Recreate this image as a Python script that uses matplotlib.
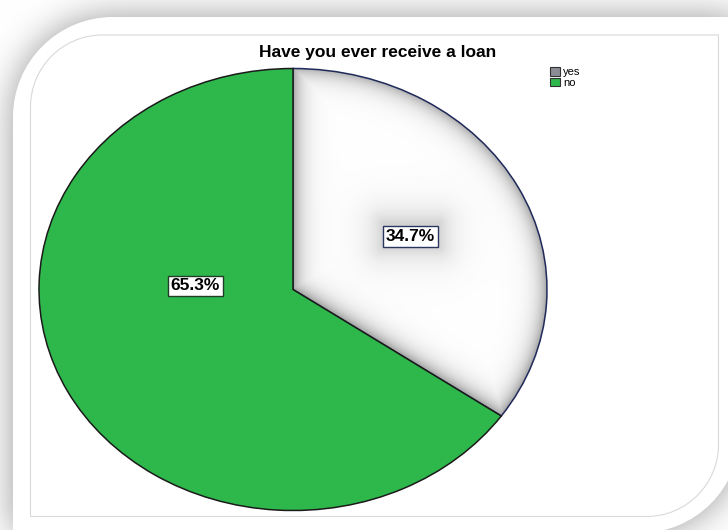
import numpy as np
import matplotlib.pyplot as plt
from matplotlib.path import Path
from matplotlib.patches import PathPatch, Patch

W, H = 728, 530

title = "Have you ever receive a loan"
labels = ["yes", "no"]
percent = [34.7, 65.3]
slice_colors = ["white", "#2eb84b"]
edge_colors = ["#1f2a5a", "#1a1a1a"]
box_edges = ["#2a3560", "#1f3d25"]
legend_colors = ["#8c8c96", "#2eb84b"]

plt.rcParams["font.family"] = ["Liberation Sans", "DejaVu Sans"]

# pie ellipse in pixel space (y down)
cx, cy, rx, ry = 293.0, 289.5, 254.0, 221.0


def diag_round_rect(x0, y0, x1, y1, r):
    # rectangle with rounded top-left and bottom-right corners only
    k = 0.5523 * r
    verts = [(x0, y0 + r),
             (x0, y0 + r - k), (x0 + r - k, y0), (x0 + r, y0),
             (x1, y0),
             (x1, y1 - r),
             (x1, y1 - r + k), (x1 - r + k, y1), (x1 - r, y1),
             (x0, y1),
             (x0, y0 + r)]
    codes = [Path.MOVETO, Path.CURVE4, Path.CURVE4, Path.CURVE4,
             Path.LINETO, Path.LINETO, Path.CURVE4, Path.CURVE4, Path.CURVE4,
             Path.LINETO, Path.CLOSEPOLY]
    return Path(verts, codes)


def gauss_blur(a, sigma):
    n = int(3 * sigma)
    t = np.arange(-n, n + 1)
    k = np.exp(-0.5 * (t / sigma) ** 2)
    k /= k.sum()
    a = np.apply_along_axis(lambda r: np.convolve(r, k, mode="same"), 1, a)
    a = np.apply_along_axis(lambda c: np.convolve(c, k, mode="same"), 0, a)
    return a


card = diag_round_rect(13, 17, 740, 533, 100)
inner = diag_round_rect(30.5, 35, 718.5, 516.5, 72)

# soft drop shadow under the card
pad = 60
gx, gy = np.meshgrid(np.arange(-pad, W + pad) + 0.5, np.arange(-pad, H + pad) + 0.5)
mask = card.contains_points(np.c_[gx.ravel(), gy.ravel()]).reshape(gx.shape).astype(float)
shadow = gauss_blur(mask, 18)[pad:-pad, pad:-pad]
bg = 1 - 0.40 * shadow
bg_rgb = np.dstack([bg, bg, bg])

# inner shading of the "yes" slice: grey towards its borders, glow round the label
px, py = np.meshgrid(np.arange(cx - rx, cx + rx) + 0.5, np.arange(cy - ry, cy + ry) + 0.5)
u = (px - cx) / rx
v = (cy - py) / ry
r = np.hypot(u, v) + 1e-9
d_arc = (1 - r) * r / np.sqrt((u / rx) ** 2 + (v / ry) ** 2)
d_l1 = np.abs(px - cx)
th = np.deg2rad(90 - 360 * percent[0] / 100)
dx, dy = rx * np.cos(th), -ry * np.sin(th)
nrm = np.hypot(dx, dy)
d_l2 = np.abs((px - cx) * dy - (py - cy) * dx) / nrm
d = np.clip(np.minimum(np.minimum(d_arc, d_l1), d_l2), 0, None)
edge_dark = 0.36 * np.exp(-d / 9.5)
bx0, bx1, by0, by1 = 383, 439, 224, 248
db = np.hypot(np.maximum(0, np.maximum(bx0 - px, px - bx1)),
              np.maximum(0, np.maximum(by0 - py, py - by1)))
glow = 0.17 * np.exp(-db / 15.0)
shade = (1 - edge_dark) * (1 - glow)
shade_rgb = np.dstack([shade, shade, shade])

fig = plt.figure(figsize=(W / 100, H / 100), dpi=100)

ax_bg = fig.add_axes([0, 0, 1, 1], zorder=-1)
ax_bg.imshow(bg_rgb, extent=(0, W, H, 0), aspect="auto", interpolation="bilinear")
ax_bg.add_patch(PathPatch(card, fc="white", ec="none"))
ax_bg.add_patch(PathPatch(inner, fc="none", ec="#d9d9d9", lw=0.8))
ax_bg.set_xlim(0, W)
ax_bg.set_ylim(H, 0)
ax_bg.axis("off")

ax = fig.add_axes([(cx - rx) / W, (H - cy - ry) / H, 2 * rx / W, 2 * ry / H])
wedges, texts, autotexts = ax.pie(
    percent, colors=slice_colors, startangle=90, counterclock=False,
    autopct=lambda p: f"{p:.1f}%", pctdistance=0.52,
    wedgeprops=dict(linewidth=1.1),
    textprops=dict(fontsize=12.5, fontweight="bold", color="black"))
for w, ec in zip(wedges, edge_colors):
    w.set_edgecolor(ec)
    w.set_clip_on(False)
wedges[0].set_facecolor("none")

img = ax.imshow(shade_rgb, extent=(-1, 1, -1, 1), aspect="auto",
                interpolation="bilinear", zorder=0.5)
img.set_clip_path(wedges[0])

for t, ec in zip(autotexts, box_edges):
    t.set_bbox(dict(boxstyle="square,pad=0.17", fc="white", ec=ec, lw=1.0))
autotexts[1].set_position((-0.385, 0.016))

ax.set_aspect("auto")
ax.set_xlim(-1, 1)
ax.set_ylim(-1, 1)
ax.axis("off")

fig.text(377.5 / W, 1 - 53 / H, title, ha="center", va="center",
         fontsize=12.5, fontweight="bold")

handles = [Patch(fc=c, ec="#333333", lw=0.8) for c in legend_colors]
fig.legend(handles, labels, loc="upper left", bbox_to_anchor=(550 / W, 1 - 67 / H),
           frameon=False, fontsize=8, handlelength=0.9, handleheight=0.8,
           handletextpad=0.3, labelspacing=0.05, borderpad=0, borderaxespad=0)

fig.savefig("out.png", dpi=100)
